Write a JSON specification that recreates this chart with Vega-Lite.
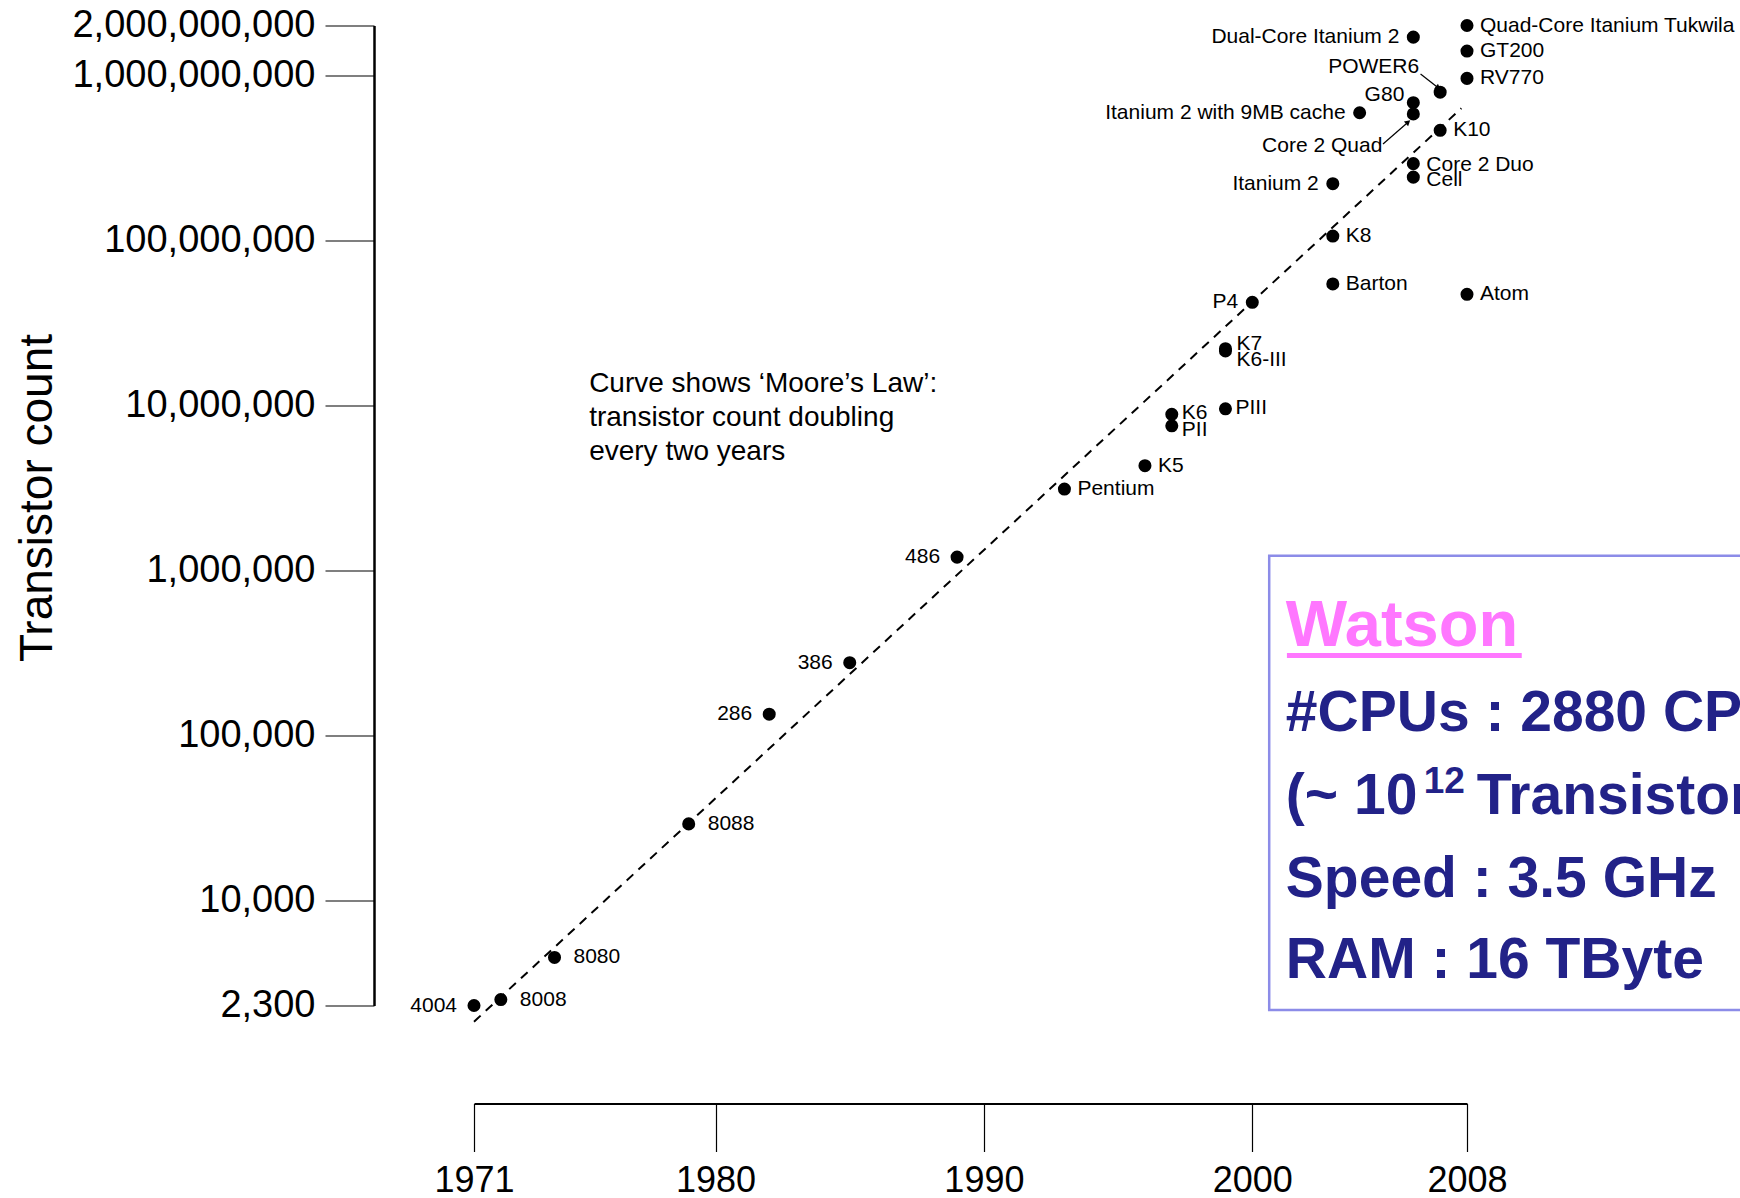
{
  "$schema": "https://vega.github.io/schema/vega-lite/v6.json",
  "width": 993,
  "height": 980,
  "autosize": {"type": "none"},
  "padding": {"left": 474, "top": 25.5, "right": 273, "bottom": 192.5},
  "background": "white",
  "config": {"view": {"stroke": null}, "font": "Liberation Sans"},
  "datasets": {
    "chips": [
      {"name": "4004", "year": 1971, "count": 2300},
      {"name": "8008", "year": 1972, "count": 2500},
      {"name": "8080", "year": 1974, "count": 4500},
      {"name": "8088", "year": 1979, "count": 29000},
      {"name": "286", "year": 1982, "count": 134000},
      {"name": "386", "year": 1985, "count": 275000},
      {"name": "486", "year": 1989, "count": 1200000},
      {"name": "Pentium", "year": 1993, "count": 3100000},
      {"name": "K5", "year": 1996, "count": 4300000},
      {"name": "PII", "year": 1997, "count": 7500000},
      {"name": "K6", "year": 1997, "count": 8800000},
      {"name": "PIII", "year": 1999, "count": 9500000},
      {"name": "K6-III", "year": 1999, "count": 21300000},
      {"name": "K7", "year": 1999, "count": 22000000},
      {"name": "P4", "year": 2000, "count": 42000000},
      {"name": "Barton", "year": 2003, "count": 54300000},
      {"name": "Atom", "year": 2008, "count": 47000000},
      {"name": "K8", "year": 2003, "count": 105900000},
      {"name": "Itanium 2", "year": 2003, "count": 220000000},
      {"name": "Cell", "year": 2006, "count": 241000000},
      {"name": "Core 2 Duo", "year": 2006, "count": 291000000},
      {"name": "Itanium 2 with 9MB cache", "year": 2004, "count": 592000000},
      {"name": "K10", "year": 2007, "count": 463000000},
      {"name": "Core 2 Quad", "year": 2006, "count": 582000000},
      {"name": "G80", "year": 2006, "count": 681000000},
      {"name": "POWER6", "year": 2007, "count": 789000000},
      {"name": "RV770", "year": 2008, "count": 956000000},
      {"name": "GT200", "year": 2008, "count": 1400000000},
      {"name": "Dual-Core Itanium 2", "year": 2006, "count": 1700000000},
      {"name": "Quad-Core Itanium Tukwila", "year": 2008, "count": 2000000000}
    ],
    "trend": [
      {"year": 1971, "count": 1834},
      {"year": 2007.79, "count": 630000000}
    ],
    "arrows": [
      {"name": "POWER6", "year": 2006.27, "count": 1016500000, "year2": 2006.9, "count2": 844400000, "angle": 128},
      {"name": "Core 2 Quad", "year": 2004.87, "count": 382600000, "year2": 2005.78, "count2": 515200000, "angle": 49}
    ],
    "note": [
      {"text": "Curve shows ‘Moore’s Law’:\ntransistor count doubling\nevery two years", "year": 1975.29, "count": 12070000}
    ],
    "box": [
      {"year": 2000.63, "count": 1224000, "year2": 2019, "count2": 2159}
    ],
    "underline": [
      {"year": 2001.29, "count": 304100, "year2": 2010.04}
    ],
    "watsonTitle": [
      {"text": "Watson", "year": 2001.25, "count": 347100}
    ],
    "watsonLines": [
      {"text": "#CPUs : 2880 CPUs", "year": 2001.25, "count": 106440},
      {"text": "(~ 10", "year": 2001.25, "count": 33290},
      {"text": "Transistors)", "year": 2008.36, "count": 33290},
      {"text": "Speed : 3.5 GHz", "year": 2001.25, "count": 10500},
      {"text": "RAM : 16 TByte", "year": 2001.25, "count": 3361}
    ],
    "watsonSup": [
      {"text": "12", "year": 2006.39, "count": 44430}
    ]
  },
  "encoding": {
    "x": {
      "field": "year",
      "type": "quantitative",
      "scale": {"domain": [1971, 2008], "nice": false, "zero": false},
      "axis": {
        "values": [1971, 1980, 1990, 2000, 2008],
        "format": "d",
        "title": null,
        "offset": 98,
        "grid": false,
        "tickSize": 48,
        "tickWidth": 1.2,
        "tickColor": "black",
        "domainColor": "black",
        "domainWidth": 2,
        "labelFont": "Liberation Sans",
        "labelFontSize": 36,
        "labelColor": "black",
        "labelPadding": 12,
        "labelFlush": false,
        "labelOverlap": false,
        "labelLimit": 400
      }
    },
    "y": {
      "field": "count",
      "type": "quantitative",
      "scale": {"type": "log", "domain": [2300, 2000000000], "nice": false},
      "axis": {
        "values": [2300, 10000, 100000, 1000000, 10000000, 100000000, 1000000000, 2000000000],
        "format": ",",
        "title": "Transistor count",
        "offset": 100,
        "grid": false,
        "tickSize": 49,
        "tickWidth": 1.2,
        "tickColor": "black",
        "domainColor": "black",
        "domainWidth": 2.5,
        "labelFont": "Liberation Sans",
        "labelFontSize": 38,
        "labelColor": "black",
        "labelPadding": 10,
        "labelFlush": false,
        "labelOverlap": false,
        "labelLimit": 400,
        "titleFont": "Liberation Sans",
        "titleFontSize": 46,
        "titleFontWeight": "normal",
        "titleColor": "black",
        "titleAngle": -90,
        "titleAlign": "center",
        "titleBaseline": "alphabetic",
        "titleLimit": 800,
        "titleX": -323,
        "titleY": 472
      }
    }
  },
  "layer": [
    {
      "data": {"name": "box"},
      "mark": {"type": "rect", "fill": "white", "stroke": "#8c8ce8", "strokeWidth": 2.5},
      "encoding": {"x2": {"field": "year2"}, "y2": {"field": "count2"}}
    },
    {
      "data": {"name": "trend"},
      "mark": {"type": "line", "color": "black", "strokeWidth": 2, "strokeDash": [9, 7]},
      "encoding": {}
    },
    {
      "data": {"name": "arrows"},
      "mark": {"type": "rule", "color": "black", "strokeWidth": 1.2},
      "encoding": {"x2": {"field": "year2"}, "y2": {"field": "count2"}}
    },
    {
      "data": {"name": "arrows"},
      "mark": {"type": "point", "shape": "triangle", "filled": true, "color": "black", "size": 40, "opacity": 1},
      "encoding": {
        "x": {"field": "year2", "type": "quantitative"},
        "y": {"field": "count2", "type": "quantitative"},
        "angle": {"field": "angle", "type": "quantitative", "scale": null}
      }
    },
    {
      "data": {"name": "chips"},
      "mark": {"type": "point", "shape": "circle", "filled": true, "color": "black", "size": 170, "opacity": 1}
    },
    {
      "data": {"name": "chips"},
      "transform": [{"filter": {"field": "name", "oneOf": ["Pentium", "K5", "K8", "Barton", "Atom", "K10", "RV770", "GT200", "Quad-Core Itanium Tukwila"]}}],
      "mark": {"type": "text", "align": "left", "baseline": "middle", "dx": 13, "fontSize": 21, "font": "Liberation Sans", "color": "black"},
      "encoding": {"text": {"field": "name"}}
    },
    {
      "data": {"name": "chips"},
      "transform": [{"filter": {"field": "name", "equal": "Core 2 Duo"}}],
      "mark": {"type": "text", "align": "left", "baseline": "middle", "dx": 13, "dy": 1, "fontSize": 21, "font": "Liberation Sans", "color": "black"},
      "encoding": {"text": {"field": "name"}}
    },
    {
      "data": {"name": "chips"},
      "transform": [{"filter": {"field": "name", "equal": "Cell"}}],
      "mark": {"type": "text", "align": "left", "baseline": "middle", "dx": 13, "dy": 3, "fontSize": 21, "font": "Liberation Sans", "color": "black"},
      "encoding": {"text": {"field": "name"}}
    },
    {
      "data": {"name": "chips"},
      "transform": [{"filter": {"field": "name", "oneOf": ["K6", "PIII"]}}],
      "mark": {"type": "text", "align": "left", "baseline": "middle", "dx": 10, "dy": -1, "fontSize": 21, "font": "Liberation Sans", "color": "black"},
      "encoding": {"text": {"field": "name"}}
    },
    {
      "data": {"name": "chips"},
      "transform": [{"filter": {"field": "name", "equal": "PII"}}],
      "mark": {"type": "text", "align": "left", "baseline": "middle", "dx": 10, "dy": 4, "fontSize": 21, "font": "Liberation Sans", "color": "black"},
      "encoding": {"text": {"field": "name"}}
    },
    {
      "data": {"name": "chips"},
      "transform": [{"filter": {"field": "name", "oneOf": ["8008", "8080", "8088"]}}],
      "mark": {"type": "text", "align": "left", "baseline": "middle", "dx": 19, "fontSize": 21, "font": "Liberation Sans", "color": "black"},
      "encoding": {"text": {"field": "name"}}
    },
    {
      "data": {"name": "chips"},
      "transform": [{"filter": {"field": "name", "equal": "K7"}}],
      "mark": {"type": "text", "align": "left", "baseline": "middle", "dx": 11, "dy": -5, "fontSize": 21, "font": "Liberation Sans", "color": "black"},
      "encoding": {"text": {"field": "name"}}
    },
    {
      "data": {"name": "chips"},
      "transform": [{"filter": {"field": "name", "equal": "K6-III"}}],
      "mark": {"type": "text", "align": "left", "baseline": "middle", "dx": 11, "dy": 9, "fontSize": 21, "font": "Liberation Sans", "color": "black"},
      "encoding": {"text": {"field": "name"}}
    },
    {
      "data": {"name": "chips"},
      "transform": [{"filter": {"field": "name", "oneOf": ["4004", "286", "386", "486"]}}],
      "mark": {"type": "text", "align": "right", "baseline": "middle", "dx": -17, "fontSize": 21, "font": "Liberation Sans", "color": "black"},
      "encoding": {"text": {"field": "name"}}
    },
    {
      "data": {"name": "chips"},
      "transform": [{"filter": {"field": "name", "oneOf": ["P4", "Itanium 2", "Itanium 2 with 9MB cache", "Dual-Core Itanium 2"]}}],
      "mark": {"type": "text", "align": "right", "baseline": "middle", "dx": -14, "fontSize": 21, "font": "Liberation Sans", "color": "black"},
      "encoding": {"text": {"field": "name"}}
    },
    {
      "data": {"name": "chips"},
      "transform": [{"filter": {"field": "name", "equal": "G80"}}],
      "mark": {"type": "text", "align": "right", "baseline": "middle", "dx": -9, "dy": -8, "fontSize": 21, "font": "Liberation Sans", "color": "black"},
      "encoding": {"text": {"field": "name"}}
    },
    {
      "data": {"name": "chips"},
      "transform": [{"filter": {"field": "name", "equal": "POWER6"}}],
      "mark": {"type": "text", "align": "right", "baseline": "middle", "dx": -21, "dy": -25, "fontSize": 21, "font": "Liberation Sans", "color": "black"},
      "encoding": {"text": {"field": "name"}}
    },
    {
      "data": {"name": "chips"},
      "transform": [{"filter": {"field": "name", "equal": "Core 2 Quad"}}],
      "mark": {"type": "text", "align": "right", "baseline": "middle", "dx": -31, "dy": 32, "fontSize": 21, "font": "Liberation Sans", "color": "black"},
      "encoding": {"text": {"field": "name"}}
    },
    {
      "data": {"name": "note"},
      "mark": {"type": "text", "align": "left", "baseline": "alphabetic", "lineBreak": "\n", "lineHeight": 34, "fontSize": 28, "font": "Liberation Sans", "color": "black"},
      "encoding": {"text": {"field": "text"}}
    },
    {
      "data": {"name": "underline"},
      "mark": {"type": "rule", "color": "#ff77ff", "strokeWidth": 5},
      "encoding": {"x2": {"field": "year2"}}
    },
    {
      "data": {"name": "watsonTitle"},
      "mark": {"type": "text", "align": "left", "baseline": "alphabetic", "fontSize": 65, "font": "Liberation Sans", "fontWeight": "bold", "color": "#ff77ff"},
      "encoding": {"text": {"field": "text"}}
    },
    {
      "data": {"name": "watsonLines"},
      "mark": {"type": "text", "align": "left", "baseline": "alphabetic", "fontSize": 57, "font": "Liberation Sans", "fontWeight": "bold", "color": "#222288"},
      "encoding": {"text": {"field": "text"}}
    },
    {
      "data": {"name": "watsonSup"},
      "mark": {"type": "text", "align": "left", "baseline": "alphabetic", "fontSize": 37, "font": "Liberation Sans", "fontWeight": "bold", "color": "#222288"},
      "encoding": {"text": {"field": "text"}}
    }
  ]
}
